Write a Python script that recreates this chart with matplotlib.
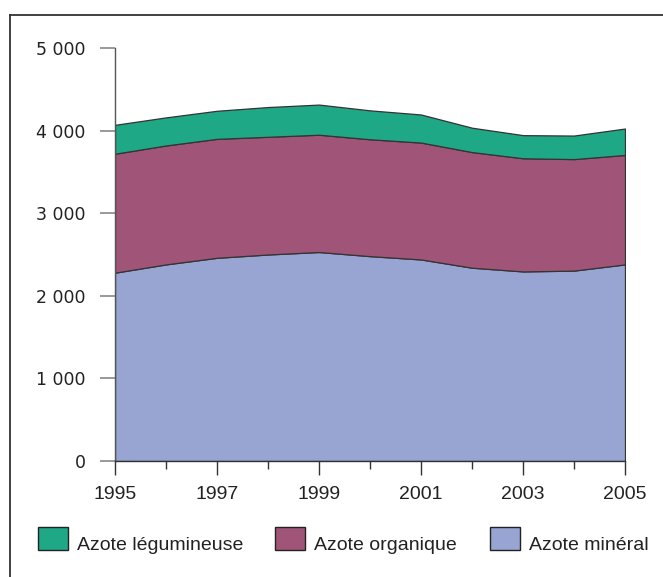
import matplotlib.pyplot as plt
import numpy as np
from matplotlib.lines import Line2D
from matplotlib.patches import Rectangle

# Données (milliers de tonnes)
annees = [1995, 1996, 1997, 1998, 1999, 2000, 2001, 2002, 2003, 2004, 2005]
azote_mineral = [2280, 2380, 2460, 2500, 2530, 2480, 2440, 2340, 2295, 2305, 2380]
azote_organique = [1440, 1440, 1440, 1425, 1420, 1415, 1415, 1400, 1370, 1350, 1325]
azote_legumineuse = [350, 340, 340, 360, 365, 350, 340, 295, 280, 285, 320]

noms = ["Azote légumineuse", "Azote organique", "Azote minéral"]
couleurs = {"Azote légumineuse": "#1fa886", "Azote organique": "#a05578", "Azote minéral": "#98a4d2"}
yticks = [0, 1000, 2000, 3000, 4000, 5000]
ylabels = ["0", "1 000", "2 000", "3 000", "4 000", "5 000"]

W, H = 663, 577
fig = plt.figure(figsize=(W / 100, H / 100), dpi=100)
ax = fig.add_axes([115 / W, 1 - 461 / H, (625 - 115) / W, (461 - 48) / H])

ax.stackplot(annees, azote_mineral, azote_organique, azote_legumineuse,
             colors=[couleurs["Azote minéral"], couleurs["Azote organique"], couleurs["Azote légumineuse"]],
             edgecolor="#333333", linewidth=0.9)

ax.set_xlim(1995, 2005)
ax.set_ylim(0, 5000)
for s in ["top", "right"]:
    ax.spines[s].set_visible(False)
ax.spines["left"].set_color("#555555")
ax.spines["bottom"].set_color("#333333")
ax.spines["left"].set_linewidth(1.0)
ax.spines["bottom"].set_linewidth(1.0)

ax.set_yticks(yticks)
ax.set_yticklabels(ylabels, fontfamily="DejaVu Sans", fontsize=12.5, color="#222222")
ax.tick_params(axis="y", length=11, width=1.2, color="#888888", pad=10)

ax.set_xticks([1995, 1997, 1999, 2001, 2003, 2005])
ax.set_xticklabels([str(a) for a in [1995, 1997, 1999, 2001, 2003, 2005]],
                   fontfamily="Liberation Sans", fontsize=14, color="#222222")
ax.set_xticks([1996, 1998, 2000, 2002, 2004], minor=True)
ax.tick_params(axis="x", which="major", length=10, width=1.0, color="#333333", pad=8)
ax.tick_params(axis="x", which="minor", length=6, width=1.0, color="#333333")

# cadre extérieur
fig.add_artist(Line2D([10 / W, 1], [1 - 15 / H, 1 - 15 / H], color="#333333", lw=1.3))
fig.add_artist(Line2D([10 / W, 10 / W], [1 - 15 / H, 0], color="#333333", lw=1.3))

# légende
pos = {"Azote légumineuse": 38, "Azote organique": 275, "Azote minéral": 490}
for nom in noms:
    x0 = pos[nom]
    fig.add_artist(Rectangle((x0 / W, 1 - 550 / H), 30 / W, 23 / H,
                             facecolor=couleurs[nom], edgecolor="#222222", lw=1.0,
                             transform=fig.transFigure))
    fig.text((x0 + 39) / W, 1 - 550 / H, nom, fontfamily="Liberation Sans",
             fontsize=14, color="#222222", ha="left", va="baseline")

fig.savefig("out.png", dpi=100)
